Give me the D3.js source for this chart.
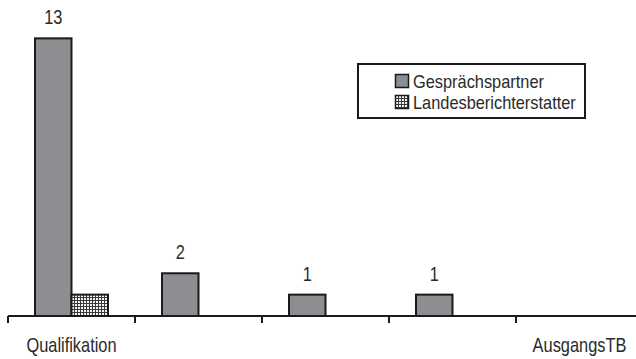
<!DOCTYPE html>
<html>
<head>
<meta charset="utf-8">
<script src="https://cdn.jsdelivr.net/npm/d3@7"></script>
<style>
  html, body { margin: 0; padding: 0; background: #fff; }
  svg { display: block; }
  text { font-family: "Liberation Sans", Arial, sans-serif; fill: #2a2a2a; }
</style>
</head>
<body>
<svg id="chart" width="636" height="359"></svg>
<script>
// Categories along the x axis (only the first and last carry a visible label)
const categories = ["Qualifikation", "Kategorie 2", "Kategorie 3", "Kategorie 4", "AusgangsTB"];
const tickLabels = ["Qualifikation", "", "", "", "AusgangsTB"];
const seriesNames = ["Gesprächspartner", "Landesberichterstatter"];
const gespraechspartner = [13, 2, 1, 1, 0];
const landesberichterstatter = [1, 0, 0, 0, 0];

const baseY = 316;
const svg = d3.select("#chart");

const defs = svg.append("defs");
const pat = defs.append("pattern")
  .attr("id", "grid")
  .attr("patternUnits", "userSpaceOnUse")
  .attr("width", 3).attr("height", 3);
pat.append("rect").attr("width", 3).attr("height", 3).attr("fill", "#3a3a3a");
pat.append("rect").attr("x", 1).attr("y", 1).attr("width", 2).attr("height", 2).attr("fill", "#f4f4f4");

const x = d3.scaleBand().domain(categories).range([8, 8 + 127 * categories.length]).padding(0);
const xs = d3.scaleBand().domain(seriesNames).range([27, 100]).padding(0);
const y = d3.scaleLinear().domain([0, 14]).range([baseY, 17]);

const fills = { "Gesprächspartner": "#8d8e92", "Landesberichterstatter": "url(#grid)" };

// places a horizontally condensed text at (px, py)
function label(sel, px, py, anchor, size, narrow) {
  return sel.attr("transform", (d, i) => `translate(${px(d, i)},${py(d, i)}) scale(${narrow},1)`)
    .attr("text-anchor", anchor)
    .attr("font-size", size);
}

const rows = categories.map((c, i) => ({
  cat: c,
  values: [
    { s: seriesNames[0], v: gespraechspartner[i] },
    { s: seriesNames[1], v: landesberichterstatter[i] }
  ]
}));

const groups = svg.append("g").selectAll("g").data(rows).join("g")
  .attr("transform", d => `translate(${x(d.cat)},0)`);

groups.selectAll("rect").data(d => d.values.filter(e => e.v > 0)).join("rect")
  .attr("x", d => xs(d.s))
  .attr("y", d => y(d.v))
  .attr("width", xs.bandwidth())
  .attr("height", d => baseY - y(d.v))
  .attr("fill", d => fills[d.s])
  .attr("stroke", "#1a1a1a")
  .attr("stroke-width", 2);

// value labels above the first series
label(groups.selectAll("text.val").data(d => d.values.filter(e => e.s === seriesNames[0] && e.v > 0)).join("text")
  .attr("class", "val"),
  d => xs(d.s) + xs.bandwidth() / 2, d => y(d.v) - 14, "middle", 20, 0.82)
  .text(d => d.v);

// x axis
const axis = svg.append("g");
axis.append("line")
  .attr("x1", x.range()[0]).attr("x2", x.range()[1])
  .attr("y1", baseY).attr("y2", baseY)
  .attr("stroke", "#1a1a1a").attr("stroke-width", 2);
axis.selectAll("line.tick").data(categories).join("line")
  .attr("class", "tick")
  .attr("x1", d => x(d)).attr("x2", d => x(d))
  .attr("y1", baseY).attr("y2", baseY + 7)
  .attr("stroke", "#1a1a1a").attr("stroke-width", 2);
label(axis.selectAll("text").data(categories).join("text"),
  d => x(d) + x.bandwidth() / 2, () => 352, "middle", 20, 0.82)
  .text((d, i) => tickLabels[i]);

// legend
const lg = svg.append("g").attr("transform", "translate(358,64)");
lg.append("rect").attr("width", 227).attr("height", 54)
  .attr("fill", "#fff").attr("stroke", "#1a1a1a").attr("stroke-width", 2);
const items = lg.selectAll("g").data(seriesNames).join("g")
  .attr("transform", (d, i) => `translate(37,${10 + i * 21})`);
items.append("rect").attr("x", 0.5).attr("y", 0.5).attr("width", 13).attr("height", 13)
  .attr("fill", d => fills[d]).attr("stroke", "#1a1a1a").attr("stroke-width", 1.5);
label(items.append("text"), () => 18, () => 13.5, "start", 18, 0.91).text(d => d);
</script>
</body>
</html>
